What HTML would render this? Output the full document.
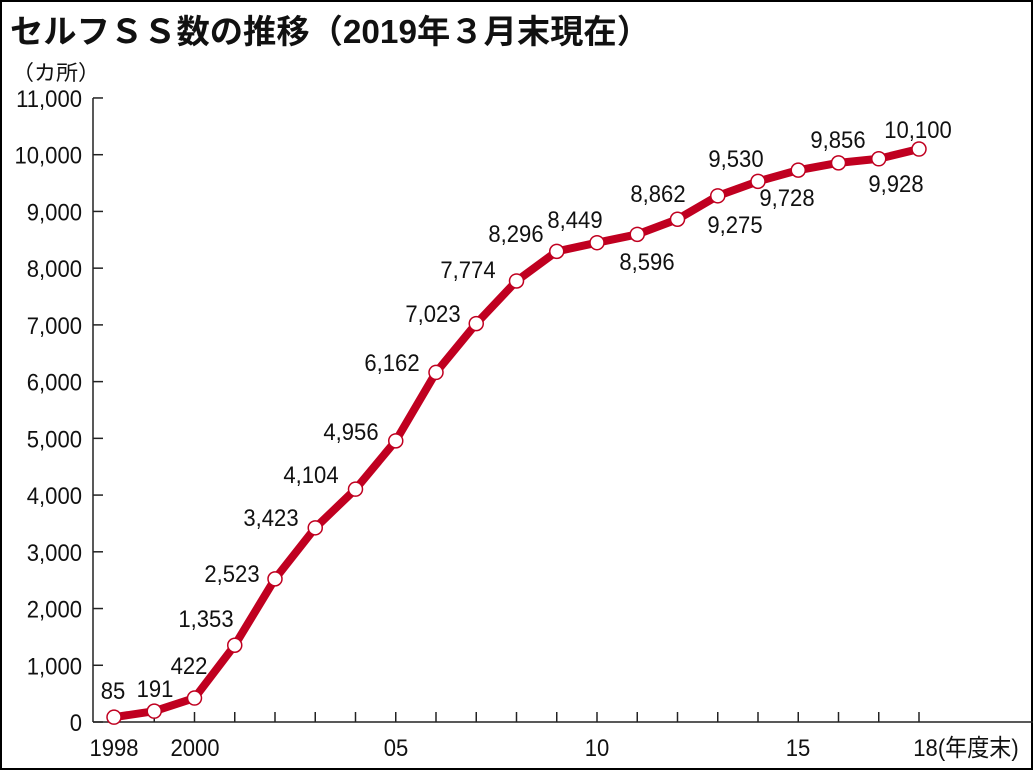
<!DOCTYPE html>
<html><head><meta charset="utf-8"><style>
html,body{margin:0;padding:0;background:#fff}
svg{display:block}
text{font-family:"Liberation Sans","Noto Sans CJK JP",sans-serif;fill:#111}
</style></head><body>
<svg width="1033" height="770" viewBox="0 0 1033 770" xmlns="http://www.w3.org/2000/svg">
<rect x="1" y="1" width="1031" height="768" fill="#fff" stroke="#000" stroke-width="2"/>
<text x="10" y="43" font-size="33" font-weight="bold" textLength="640" lengthAdjust="spacingAndGlyphs">セルフＳＳ数の推移（2019年３月末現在）</text>
<text x="12" y="80" font-size="21" textLength="88" lengthAdjust="spacingAndGlyphs">（カ所）</text>
<g stroke="#222" stroke-width="1.5" fill="none">
<line x1="93" y1="98" x2="93" y2="722"/>
<line x1="93" y1="722" x2="1033" y2="722"/>
</g>
<g id="yt" font-size="24" text-anchor="end"></g>
<g id="xt" font-size="24" text-anchor="middle"></g>
<g id="ticks" stroke="#222" stroke-width="1.5"></g>
<polyline id="line" fill="none" stroke="#c00020" stroke-width="8" stroke-linejoin="round"/>
<g id="pts"></g>
<g id="lbl" font-size="24" text-anchor="middle"></g>
</svg>
<script>
var NS="http://www.w3.org/2000/svg";
function el(p,n,a,t){var e=document.createElementNS(NS,n);for(var k in a)e.setAttribute(k,a[k]);if(t)e.textContent=t;document.getElementById(p).appendChild(e);return e;}
function tx(p,x,y,s){el(p,"text",{transform:"translate("+x+","+y+") scale(0.92,1)"},s);}
function Y(v){return 722-v*0.05673;}
function X(i){return 114+i*40.25;}
for(var i=0;i<=11;i++){var y=Y(i*1000);
tx("yt",82,y+9,i==0?"0":(i*1000).toLocaleString("en-US"));
el("ticks","line",{x1:93,y1:y,x2:103,y2:y});}
for(var i=0;i<=20;i++){el("ticks","line",{x1:X(i),y1:722,x2:X(i),y2:712});}
tx("xt",114,756,"1998");tx("xt",195,756,"2000");
tx("xt",396,756,"05");tx("xt",597,756,"10");
tx("xt",798,756,"15");tx("xt",966,756,"18(年度末)");
var v=[85,191,422,1353,2523,3423,4104,4956,6162,7023,7774,8296,8449,8596,8862,9275,9530,9728,9856,9928,10100];
var pts=v.map(function(d,i){return X(i)+","+Y(d)}).join(" ");
document.getElementById("line").setAttribute("points",pts);
v.forEach(function(d,i){el("pts","circle",{cx:X(i),cy:Y(d),r:7,fill:"#fff",stroke:"#c00020","stroke-width":1.5});});
var L=[[113,699],[155,697],[189,674],[206,627],[232,582],[271,526],[311,483],[351,440],[392,371],[433,322],[468,278],[516,242],[575,228],[647,270],[658,202],[735,233],[736,167],[787,206],[838,148],[896,192],[918,138]];
v.forEach(function(d,i){tx("lbl",L[i][0],L[i][1],d.toLocaleString("en-US"));});
</script>
</body></html>
